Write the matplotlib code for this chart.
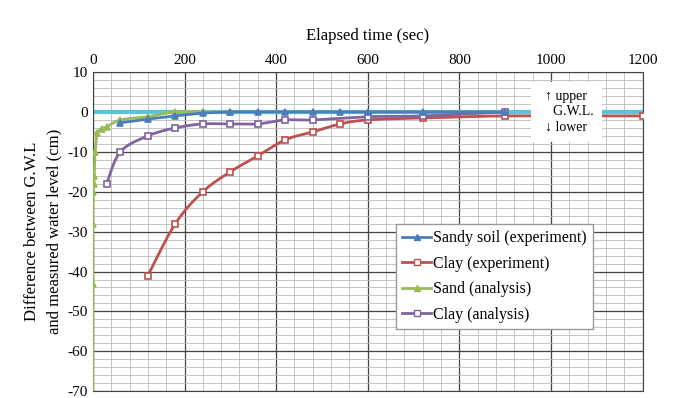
import numpy as np
import matplotlib.pyplot as plt
from matplotlib.ticker import MultipleLocator

plt.rcParams['font.family'] = ['Liberation Serif', 'DejaVu Serif']
plt.rcParams['axes.unicode_minus'] = False

# Sandy soil (experiment)
t_sand_exp = [60, 120, 180, 240, 300, 360, 420, 480, 540, 600, 720, 900]
d_sand_exp = [-2.7, -1.8, -1.0, -0.3, 0, 0, 0, 0, 0, 0, 0, 0]
# Clay (experiment)
t_clay_exp = [120, 180, 240, 300, 360, 420, 480, 540, 600, 720, 900, 1200]
d_clay_exp = [-41, -28, -20, -15, -11, -7, -5, -3, -2, -1.5, -1, -1]
# Sand (analysis)
t_sand_ana = [0, 0, 0, 1, 2, 3, 5, 10, 20, 30, 60, 120, 180, 240, 300]
d_sand_ana = [-80, -43, -28, -20, -18, -16, -10, -5.3, -4.2, -3.8, -2, -1.2, 0, 0, 0]
# Clay (analysis)
t_clay_ana = [30, 60, 120, 180, 240, 300, 360, 420, 480, 600, 720, 900]
d_clay_ana = [-18, -10, -6, -4, -3, -3, -3, -2, -2, -1.2, -1, 0]


def smooth(x, y, n=20):
    # Excel-like smoothed line (Catmull-Rom through the points)
    p = np.column_stack([x, y]).astype(float)
    p = np.vstack([p[0], p, p[-1]])
    out = []
    for i in range(1, len(p) - 2):
        p0, p1, p2, p3 = p[i - 1], p[i], p[i + 1], p[i + 2]
        t = np.linspace(0, 1, n)[:, None]
        seg = 0.5 * (2 * p1 + (-p0 + p2) * t + (2 * p0 - 5 * p1 + 4 * p2 - p3) * t ** 2
                     + (-p0 + 3 * p1 - 3 * p2 + p3) * t ** 3)
        out.append(seg)
    out = np.vstack(out)
    return out[:, 0], out[:, 1]


fig = plt.figure(figsize=(6.73, 3.98), dpi=100)
ax = fig.add_axes([0.138, 0.017, 0.817, 0.802])

ax.axhline(0, color='#5BC4D6', lw=3, zorder=2)

series = [
    (t_sand_exp, d_sand_exp, '#4A7EBB', '^', 'Sandy soil (experiment)', 4),
    (t_clay_exp, d_clay_exp, '#C0504D', 's', 'Clay (experiment)', 3),
    (t_sand_ana, d_sand_ana, '#9BBB59', '^', 'Sand (analysis)', 3),
    (t_clay_ana, d_clay_ana, '#8064A2', 's', 'Clay (analysis)', 3),
]
handles = []
for t, d, c, m, lab, z in series:
    sx, sy = smooth(t, d)
    ax.plot(sx, sy, color=c, lw=2, zorder=z)
    mfc = 'white' if m == 's' else c
    ax.plot(t, d, ls='none', marker=m, ms=5 if m == 's' else 4.5, mfc=mfc, mec=c,
            mew=1.2, zorder=z)
    h, = ax.plot([], [], color=c, lw=2, marker=m, ms=4, mfc=mfc, mec=c, label=lab)
    handles.append(h)

ax.set_xlim(0, 1200)
ax.set_ylim(-70, 10)
ax.xaxis.set_major_locator(MultipleLocator(200))
ax.xaxis.set_minor_locator(MultipleLocator(40))
ax.yaxis.set_major_locator(MultipleLocator(10))
ax.yaxis.set_minor_locator(MultipleLocator(2))
ax.grid(which='major', color='#444444', lw=0.9)
ax.grid(which='minor', color='#bbbbbb', lw=0.6)
ax.set_axisbelow(True)
ax.tick_params(which='both', length=0, labelsize=11)
ax.xaxis.tick_top()
ax.xaxis.set_label_position('top')
ax.set_xlabel('Elapsed time (sec)', fontsize=12, labelpad=10)
ax.set_ylabel('Difference between G.W.L\nand measured water level (cm)', fontsize=12,
              linespacing=1.5)
for s in ax.spines.values():
    s.set_color('#444444')

ax.text(1033, 0, '\u2191 upper\n    G.W.L.\n\u2193 lower', fontsize=10, va='center', ha='center',
        family=['Liberation Serif', 'DejaVu Sans'], zorder=6,
        bbox=dict(facecolor='white', edgecolor='none', pad=6))

ax.legend(handles=handles, loc='lower right', bbox_to_anchor=(0.909, 0.194), fontsize=11.5,
          fancybox=False, edgecolor='#999999', framealpha=1, handlelength=1.8,
          handletextpad=0.1, borderpad=0.4, labelspacing=0.6, borderaxespad=0)

fig.savefig('out.png', dpi=100)
